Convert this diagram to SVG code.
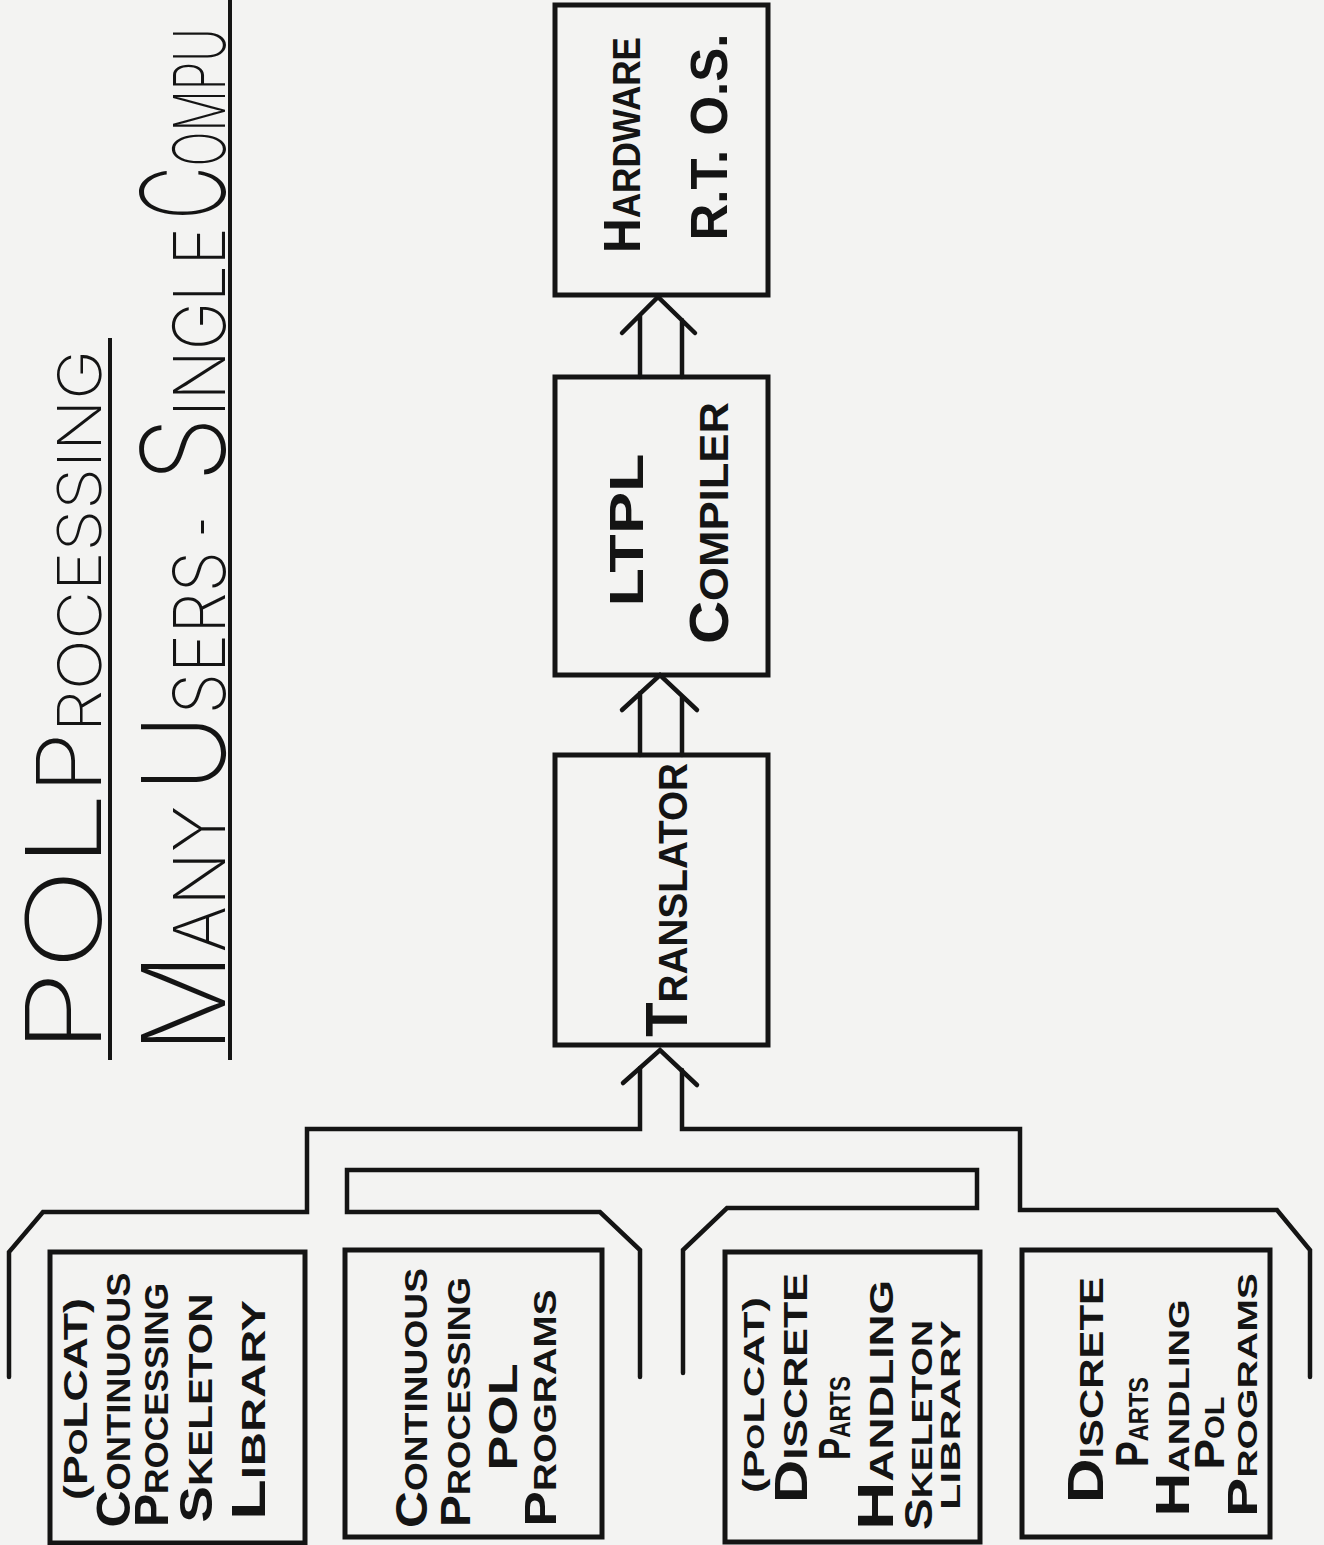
<svg xmlns="http://www.w3.org/2000/svg" width="1324" height="1545" viewBox="0 0 1324 1545">
  <style>
    .bg { fill: #f3f3f2; }
    .box { fill: none; stroke: #141414; stroke-width: 5; stroke-linejoin: miter; }
    .wire { fill: none; stroke: #141414; stroke-width: 4.5; stroke-linejoin: miter; stroke-linecap: round; }
    .lbl { font-family: "Liberation Sans", "DejaVu Sans", sans-serif; font-weight: 700; fill: #141414; text-anchor: middle; }
    .ttl { font-family: "Inter", "Liberation Sans", sans-serif; font-weight: 200; fill: #141414; }
    .rule { stroke: #141414; stroke-width: 4; }
  </style>

  <rect class="bg" x="0" y="0" width="1324" height="1545"/>

  <!-- headings, lettered sideways (read bottom to top) -->
  <g id="title">
    <text class="ttl" transform="translate(101,1054) rotate(-90)" font-size="104" textLength="262" lengthAdjust="spacingAndGlyphs">POL</text>
    <text class="ttl" transform="translate(101,794) rotate(-90)" font-size="60" textLength="444" lengthAdjust="spacingAndGlyphs"><tspan font-size="90">P</tspan>ROCESSING</text>
    <line class="rule" x1="110" y1="338" x2="110" y2="1060"/>
  </g>
  <g id="subtitle">
    <text class="ttl" transform="translate(225,1054) rotate(-90)" font-size="72" textLength="248" lengthAdjust="spacingAndGlyphs"><tspan font-size="116">M</tspan>ANY</text>
    <text class="ttl" transform="translate(225,792) rotate(-90)" font-size="72" textLength="241" lengthAdjust="spacingAndGlyphs"><tspan font-size="116">U</tspan>SERS</text>
    <text class="ttl" transform="translate(225,537) rotate(-90)" font-size="72" textLength="20" lengthAdjust="spacingAndGlyphs">-</text>
    <text class="ttl" transform="translate(225,482) rotate(-90)" font-size="72" textLength="255" lengthAdjust="spacingAndGlyphs"><tspan font-size="116">S</tspan>INGLE</text>
    <text class="ttl" transform="translate(225,220) rotate(-90) scale(0.64,1)" font-size="72"><tspan font-size="116">C</tspan>OMPU</text>
    <line class="rule" x1="230" y1="0" x2="230" y2="1060"/>
  </g>

  <!-- processing chain -->
  <g id="hardware">
    <rect class="box" x="555" y="5" width="213" height="290"/>
    <text class="lbl" transform="translate(640,145) rotate(-90)" textLength="216" lengthAdjust="spacingAndGlyphs" font-size="38"><tspan font-size="52">H</tspan>ARDWARE</text>
    <text class="lbl" transform="translate(727,137) rotate(-90)" textLength="207" lengthAdjust="spacingAndGlyphs" font-size="52">R.T. O.S.</text>
  </g>
  <g id="compiler">
    <rect class="box" x="555" y="377" width="213" height="298"/>
    <text class="lbl" transform="translate(643,530) rotate(-90)" textLength="153" lengthAdjust="spacingAndGlyphs" font-size="48">LTPL</text>
    <text class="lbl" transform="translate(728,523) rotate(-90)" textLength="242" lengthAdjust="spacingAndGlyphs" font-size="41"><tspan font-size="56">C</tspan>OMPILER</text>
  </g>
  <g id="translator">
    <rect class="box" x="555" y="755" width="213" height="290"/>
    <text class="lbl" transform="translate(687,900) rotate(-90)" textLength="274" lengthAdjust="spacingAndGlyphs" font-size="41"><tspan font-size="60">T</tspan>RANSLATOR</text>
  </g>

  <!-- source groups -->
  <g id="cp-skeleton-library">
    <rect class="box" x="50" y="1252" width="255" height="291"/>
    <text class="lbl" transform="translate(87,1399) rotate(-90)" textLength="202" lengthAdjust="spacingAndGlyphs" font-size="34">(P<tspan font-size="26">O</tspan>LCAT)</text>
    <text class="lbl" transform="translate(130,1400) rotate(-90)" textLength="255" lengthAdjust="spacingAndGlyphs" font-size="34"><tspan font-size="48">C</tspan>ONTINUOUS</text>
    <text class="lbl" transform="translate(168,1405) rotate(-90)" textLength="244" lengthAdjust="spacingAndGlyphs" font-size="34"><tspan font-size="48">P</tspan>ROCESSING</text>
    <text class="lbl" transform="translate(212,1408) rotate(-90)" textLength="229" lengthAdjust="spacingAndGlyphs" font-size="34"><tspan font-size="46">S</tspan>KELETON</text>
    <text class="lbl" transform="translate(265,1410) rotate(-90)" textLength="220" lengthAdjust="spacingAndGlyphs" font-size="34"><tspan font-size="48">L</tspan>IBRARY</text>
  </g>
  <g id="cp-pol-programs">
    <rect class="box" x="345" y="1250" width="257" height="287"/>
    <text class="lbl" transform="translate(427,1398) rotate(-90)" textLength="260" lengthAdjust="spacingAndGlyphs" font-size="32"><tspan font-size="44">C</tspan>ONTINUOUS</text>
    <text class="lbl" transform="translate(470,1402) rotate(-90)" textLength="250" lengthAdjust="spacingAndGlyphs" font-size="32"><tspan font-size="42">P</tspan>ROCESSING</text>
    <text class="lbl" transform="translate(517,1417) rotate(-90)" textLength="107" lengthAdjust="spacingAndGlyphs" font-size="40">POL</text>
    <text class="lbl" transform="translate(556,1408) rotate(-90)" textLength="237" lengthAdjust="spacingAndGlyphs" font-size="32"><tspan font-size="44">P</tspan>ROGRAMS</text>
  </g>
  <g id="dph-skeleton-library">
    <rect class="box" x="725" y="1252" width="255" height="290"/>
    <text class="lbl" transform="translate(764,1395) rotate(-90)" textLength="196" lengthAdjust="spacingAndGlyphs" font-size="30">(P<tspan font-size="23">O</tspan>LCAT)</text>
    <text class="lbl" transform="translate(807,1388) rotate(-90)" textLength="230" lengthAdjust="spacingAndGlyphs" font-size="33"><tspan font-size="46">D</tspan>ISCRETE</text>
    <text class="lbl" transform="translate(850,1418) rotate(-90)" textLength="84" lengthAdjust="spacingAndGlyphs" font-size="30"><tspan font-size="44">P</tspan>ARTS</text>
    <text class="lbl" transform="translate(893,1405) rotate(-90)" textLength="250" lengthAdjust="spacingAndGlyphs" font-size="33"><tspan font-size="50">H</tspan>ANDLING</text>
    <text class="lbl" transform="translate(932,1425) rotate(-90)" textLength="210" lengthAdjust="spacingAndGlyphs" font-size="30"><tspan font-size="38">S</tspan>KELETON</text>
    <text class="lbl" transform="translate(960,1415) rotate(-90)" textLength="190" lengthAdjust="spacingAndGlyphs" font-size="28">LIBRARY</text>
  </g>
  <g id="dph-pol-programs">
    <rect class="box" x="1022" y="1250" width="248" height="287"/>
    <text class="lbl" transform="translate(1103,1390) rotate(-90)" textLength="226" lengthAdjust="spacingAndGlyphs" font-size="34"><tspan font-size="50">D</tspan>ISCRETE</text>
    <text class="lbl" transform="translate(1148,1422) rotate(-90)" textLength="90" lengthAdjust="spacingAndGlyphs" font-size="28"><tspan font-size="46">P</tspan>ARTS</text>
    <text class="lbl" transform="translate(1189,1408) rotate(-90)" textLength="217" lengthAdjust="spacingAndGlyphs" font-size="30"><tspan font-size="48">H</tspan>ANDLING</text>
    <text class="lbl" transform="translate(1224,1433) rotate(-90)" textLength="73" lengthAdjust="spacingAndGlyphs" font-size="28"><tspan font-size="42">P</tspan>OL</text>
    <text class="lbl" transform="translate(1257,1395) rotate(-90)" textLength="244" lengthAdjust="spacingAndGlyphs" font-size="28"><tspan font-size="42">P</tspan>ROGRAMS</text>
  </g>

  <!-- double-line flow arrows and the collecting channel -->
  <g id="connectors">
    <!-- compiler to hardware -->
    <path class="wire" d="M640 377 L640 315 M682 377 L682 320 M622 333 L658 297 L695 333"/>
    <!-- translator to compiler -->
    <path class="wire" d="M640 755 L640 693 M682 755 L682 697 M622 710 L660 675 L697 710"/>
    <!-- channel to translator -->
    <path class="wire" d="M623 1083 L660 1050 L697 1085"/>
    <!-- outer wall, continuous-processing side -->
    <path class="wire" d="M9 1377 L9 1252 L43 1212 L307 1212 L307 1129 L640 1129 L640 1068"/>
    <!-- outer wall, discrete-parts side -->
    <path class="wire" d="M682 1070 L682 1129 L1020 1129 L1020 1210 L1277 1210 L1310 1250 L1310 1377"/>
    <!-- inner wall between the two brackets -->
    <path class="wire" d="M640 1377 L640 1250 L600 1212 L347 1212 L347 1170 L977 1170 L977 1208 L727 1208 L683 1250 L683 1373"/>
  </g>
</svg>
